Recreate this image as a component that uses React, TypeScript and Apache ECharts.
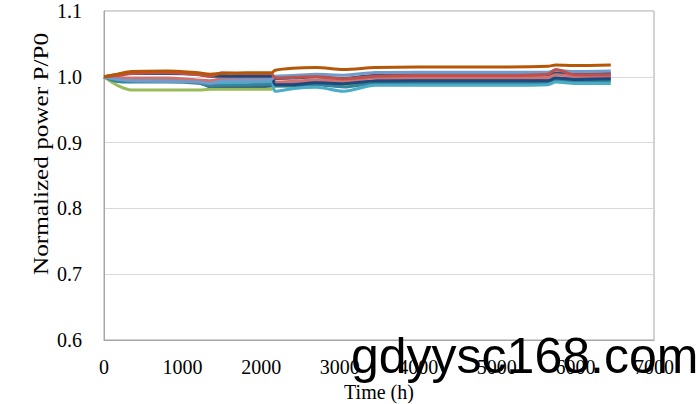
import React, { useEffect, useRef } from "react";
import * as echarts from "echarts";

const timeH = [0, 170, 350, 800, 1200, 1350, 1500, 1800, 2130, 2180, 2400, 2700, 3050, 3450, 4000, 5000, 5650, 5750, 6000, 6450];

const seriesNames = ["S1", "S2", "S3", "S4", "S5", "S6", "S7", "S8", "S9", "S10"];
const seriesColors = ["#2C4D75", "#8064A2", "#9BBB59", "#31859C", "#4BACC6", "#CD7371", "#1F497D", "#729ACA", "#C0504D", "#B65708"];

const s1 = [1.000, 0.995, 0.995, 0.996, 0.993, 0.985, 0.985, 0.985, 0.986, 0.9975, 0.998, 1.000, 0.9975, 1.0025, 1.003, 1.003, 1.003, 1.006, 1.004, 1.005];
const s2 = [1.000, 0.998, 0.997, 0.996, 0.994, 0.988, 0.988, 0.988, 0.989, 0.990, 0.990, 0.992, 0.989, 0.994, 0.995, 0.995, 0.995, 0.998, 0.997, 0.998];
const s3 = [1.000, 0.987, 0.980, 0.980, 0.980, 0.981, 0.981, 0.981, 0.981, 0.986, 0.986, 0.989, 0.987, 0.991, 0.992, 0.992, 0.992, 0.995, 0.994, 0.995];
const s4 = [1.000, 0.993, 0.992, 0.992, 0.990, 0.986, 0.987, 0.987, 0.988, 0.986, 0.986, 0.988, 0.9845, 0.990, 0.990, 0.990, 0.991, 0.995, 0.993, 0.9945];
const s5 = [1.000, 0.997, 0.996, 0.995, 0.993, 0.991, 0.991, 0.992, 0.993, 0.978, 0.982, 0.984, 0.978, 0.987, 0.987, 0.987, 0.988, 0.992, 0.990, 0.990];
const s6 = [1.000, 0.999, 0.998, 0.998, 0.995, 0.994, 0.997, 0.9975, 0.998, 0.992, 0.993, 0.995, 0.9935, 0.9985, 0.999, 0.999, 0.999, 1.003, 1.001, 1.0015];
const s7 = [1.000, 1.003, 1.005, 1.005, 1.004, 1.001, 1.001, 1.001, 1.001, 0.988, 0.988, 0.991, 0.9895, 0.9935, 0.994, 0.994, 0.994, 0.998, 0.996, 0.997];
const s8 = [1.000, 0.996, 0.994, 0.993, 0.992, 0.990, 0.994, 0.995, 0.996, 1.001, 1.002, 1.004, 1.0025, 1.0065, 1.007, 1.007, 1.007, 1.010, 1.008, 1.0087];
const s9 = [1.000, 1.002, 1.005, 1.006, 1.003, 1.001, 1.006, 1.005, 1.005, 0.998, 0.999, 1.000, 0.997, 1.001, 1.002, 1.002, 1.004, 1.011, 1.003, 1.003];
const s10 = [1.000, 1.004, 1.008, 1.009, 1.006, 1.004, 1.005, 1.006, 1.006, 1.010, 1.013, 1.014, 1.011, 1.014, 1.015, 1.015, 1.016, 1.018, 1.017, 1.018];

const allValues = [s1, s2, s3, s4, s5, s6, s7, s8, s9, s10];

const yTicks = [0.6, 0.7, 0.8, 0.9, 1.0, 1.1];
const xTicks = [0, 1000, 2000, 3000, 4000, 5000, 6000, 7000];

const xTitle = "Time (h)";
const yTitle = "Normalized power P/P0";
const watermark = "gdyysc168.com";

export default function App() {
  const ref = useRef<HTMLDivElement>(null);
  useEffect(() => {
    if (!ref.current) return;
    const chart = echarts.init(ref.current, null, { renderer: "svg" });
    const serif = "Liberation Serif";
    chart.setOption({
      animation: false,
      backgroundColor: "#ffffff",
      grid: {
        left: 104,
        right: 43,
        top: 11,
        bottom: 64,
        show: true,
        borderColor: "#A6A6A6",
        borderWidth: 1,
        containLabel: false,
        outerBoundsMode: "none",
      },
      xAxis: {
        type: "value",
        min: xTicks[0],
        max: xTicks[xTicks.length - 1],
        interval: 1000,
        name: xTitle,
        nameLocation: "middle",
        nameGap: 42,
        nameTextStyle: { fontFamily: serif, fontSize: 20, color: "#000" },
        axisLine: { show: true, lineStyle: { color: "#A6A6A6" } },
        axisTick: { show: false },
        splitLine: { show: false },
        axisLabel: {
          fontFamily: serif,
          fontSize: 20,
          color: "#000",
          margin: 17,
          formatter: (v: number) => String(v),
        },
      },
      yAxis: {
        type: "value",
        min: yTicks[0],
        max: yTicks[yTicks.length - 1],
        interval: 0.1,
        axisLine: { show: true, lineStyle: { color: "#A6A6A6" } },
        axisTick: { show: false },
        splitLine: { show: true, lineStyle: { color: "#D9D9D9" } },
        axisLabel: {
          fontFamily: serif,
          fontSize: 20,
          color: "#000",
          margin: 22,
          formatter: (v: number) => v.toFixed(1),
        },
      },
      graphic: [
        {
          type: "text",
          x: 41,
          y: 154,
          rotation: Math.PI / 2,
          scaleX: 1.2,
          style: {
            text: yTitle,
            fontFamily: serif,
            fontSize: 21,
            fill: "#000",
            textAlign: "center",
            textVerticalAlign: "middle",
          },
        },
        {
          type: "text",
          x: 351,
          y: 381,
          z: 100,
          style: {
            text: watermark,
            fontFamily: "Liberation Sans",
            fontSize: 50,
            fill: "#000",
            textAlign: "left",
            textVerticalAlign: "bottom",
          },
        },
      ],
      series: allValues.map((vals, i) => ({
        name: seriesNames[i],
        type: "line",
        data: timeH.map((t, j) => [t, vals[j]]),
        showSymbol: false,
        symbol: "none",
        smooth: 0.3,
        lineStyle: { width: 3, color: seriesColors[i] },
        itemStyle: { color: seriesColors[i] },
      })),
    });
    return () => chart.dispose();
  }, []);
  return (
    <div
      ref={ref}
      style={{ position: "fixed", left: 0, top: 0, width: 697, height: 404 }}
    />
  );
}
